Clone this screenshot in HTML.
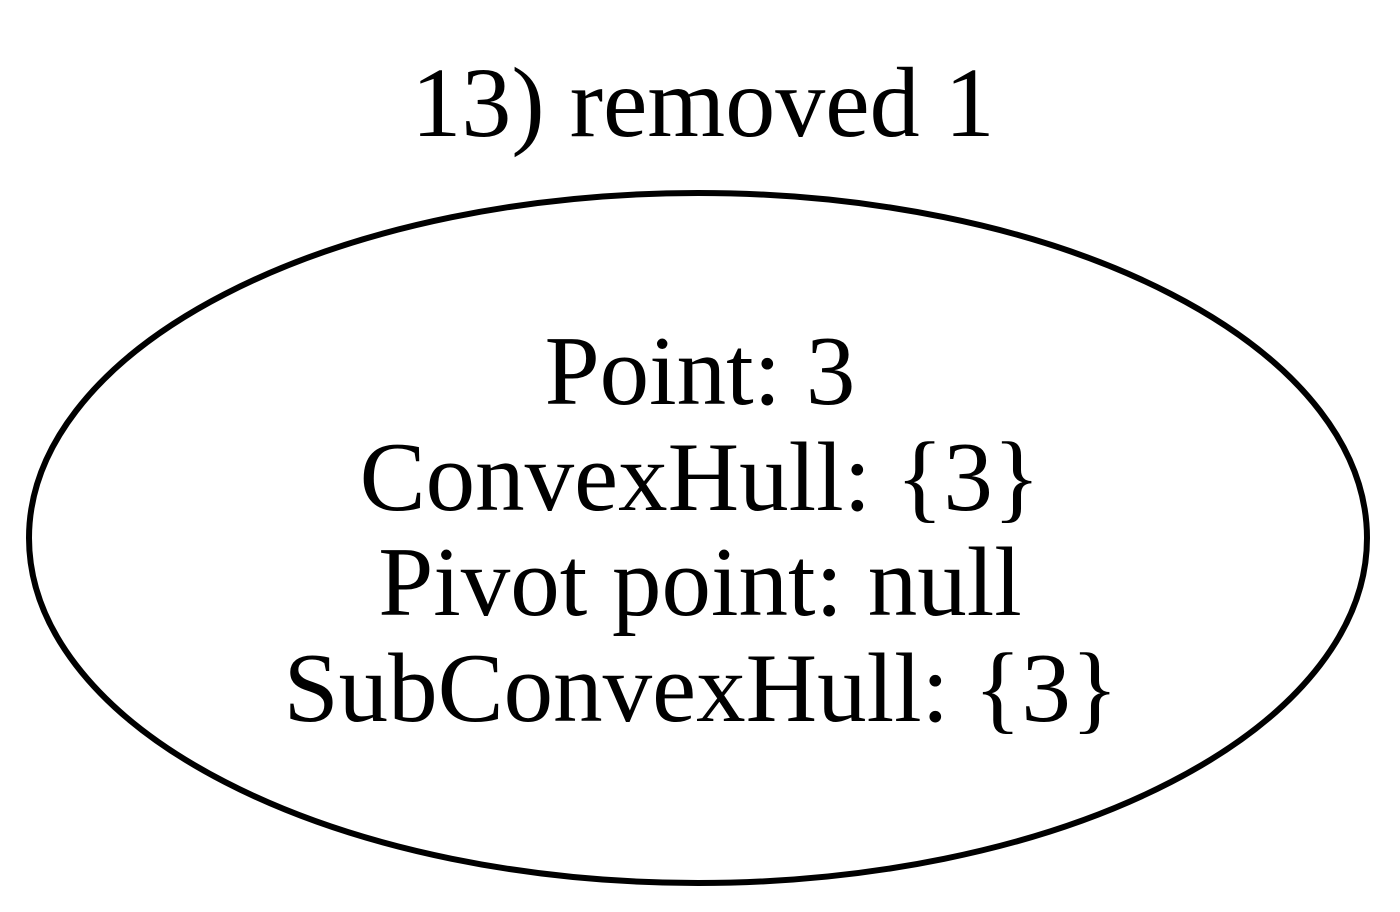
<!DOCTYPE html>
<html><head><style>html,body{margin:0;padding:0;background:#fff;}svg{display:block}</style></head>
<body>
<svg width="1400" height="912" viewBox="0 0 1400 912" xmlns="http://www.w3.org/2000/svg">
<rect width="1400" height="912" fill="#fff"/>
<text x="703" y="136" text-anchor="middle" font-family="Liberation Serif, serif" font-size="100">13) removed 1</text>
<ellipse cx="698" cy="538" rx="669" ry="345" fill="none" stroke="#000" stroke-width="6"/>
<g font-family="Liberation Serif, serif" font-size="99" text-anchor="middle">
<text x="700" y="404">Point: 3</text>
<text x="700" y="510">ConvexHull: {3}</text>
<text x="700" y="615">Pivot point: null</text>
<text x="701" y="721">SubConvexHull: {3}</text>
</g>
</svg>
</body></html>
